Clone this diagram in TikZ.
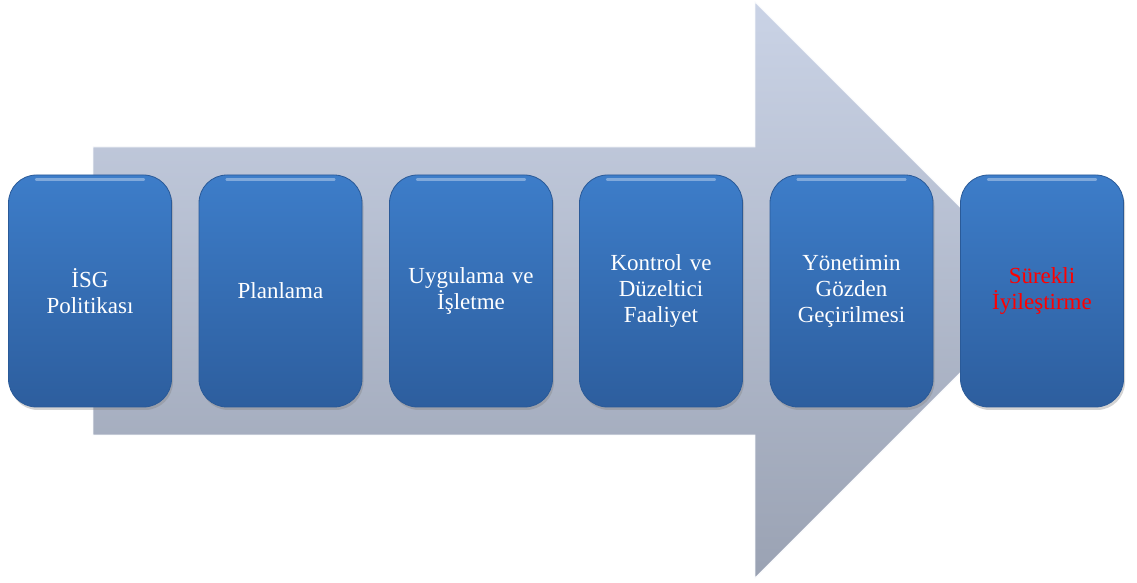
\documentclass[tikz,border=0pt]{standalone}
\usepackage{fontspec}
\setmainfont{Liberation Serif}
\usetikzlibrary{shadows}
\definecolor{arrowtop}{HTML}{CAD3E6}
\definecolor{arrowbot}{HTML}{9AA2B3}
\definecolor{boxtop}{HTML}{3D7DC9}
\definecolor{boxbot}{HTML}{2D5E9E}
\definecolor{boxedge}{HTML}{2A5A98}
\definecolor{redtxt}{HTML}{FF0000}
\tikzset{
  bigarrow/.style={top color=arrowtop, bottom color=arrowbot, draw=white!85!arrowtop, line width=0.8pt},
  stagebox/.style={rounded corners=28pt, minimum width=163pt, minimum height=232pt,
    top color=boxtop, bottom color=boxbot, draw=boxedge, line width=0.8pt,
    drop shadow={opacity=0.35, shadow xshift=1.5pt, shadow yshift=-3pt},
    text width=150pt, align=center, text=white,
    font=\fontsize{23}{26}\selectfont, inner sep=0pt},
  shine/.style={white, opacity=0.35, line width=2.5pt, line cap=round}
}
\begin{document}
\begin{tikzpicture}[x=1pt,y=1pt]
\useasboundingbox (0,0) rectangle (1137,583);
\path[bigarrow] (93,436) -- (755,436) -- (755,581) -- (1043,293) -- (755,5) -- (755,148) -- (93,148) -- cycle;
\node[stagebox] (b1) at (90,292) {İSG\\Politikası};
\node[stagebox] (b2) at (280.5,292) {Planlama};
\node[stagebox] (b3) at (471,292) {Uygulama ve\\İşletme};
\node[stagebox] (b4) at (661,292) {Kontrol ve\\Düzeltici\\Faaliyet};
\node[stagebox] (b5) at (851.5,292) {Yönetimin\\Gözden\\Geçirilmesi};
\node[stagebox, text=redtxt] (b6) at (1042,292) {Sürekli\\İyileştirme};
\foreach \b in {b1,b2,b3,b4,b5,b6}{
  \draw[shine] ([xshift=28pt,yshift=-5pt]\b.north west) -- ([xshift=-28pt,yshift=-5pt]\b.north east);
}
\end{tikzpicture}
\end{document}
